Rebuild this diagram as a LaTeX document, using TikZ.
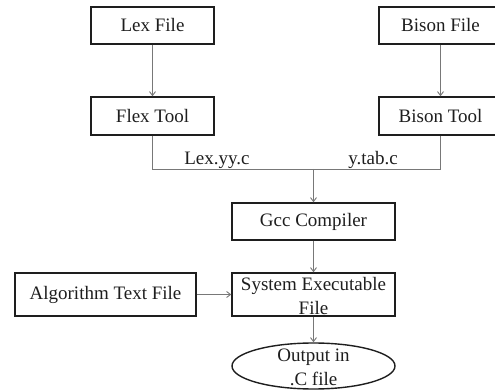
\documentclass[tikz,border=0pt]{standalone}
\usepackage{fontspec}
\setmainfont{Liberation Serif}
\usepackage{xcolor}
\usetikzlibrary{arrows.meta, positioning, shapes.geometric}
\definecolor{boxline}{RGB}{30, 30, 30}
\definecolor{wire}{RGB}{120, 120, 120}

\begin{document}
\begin{tikzpicture}[
    x=1pt, y=-1pt,
    box/.style={rectangle, draw=boxline, line width=1.4pt, inner sep=0pt, minimum width=#1, minimum height=37pt, font=\fontsize{19}{23.5}\selectfont, text=boxline},
    box/.default=123pt,
    oval/.style={ellipse, draw=boxline, line width=1.4pt, inner sep=0pt, minimum width=163pt, minimum height=46pt},
    boxtext/.style={align=center, inner sep=0pt, font=\fontsize{19}{23.5}\selectfont, text=boxline},
    lbl/.style={anchor=base, inner sep=0pt, font=\fontsize{19}{23.5}\selectfont, text=boxline},
    wireline/.style={draw=wire, line width=0.9pt},
    flowarrow/.style={wireline, -{Straight Barb[length=4pt, width=6pt]}}
  ]
  \clip (0,0) rectangle (495,390);

  % Input files
  \node[box] (lexfile) at (152.5, 25.5) {Lex File};
  \node[box] (bisonfile) at (440.5, 25.5) {Bison File};

  % Generator tools
  \node[box, minimum height=38pt] (flextool) at (152.5, 116) {Flex Tool};
  \node[box, minimum height=38pt] (bisontool) at (440.5, 116) {Bison Tool};
  \draw[flowarrow] (lexfile) -- (flextool);
  \draw[flowarrow] (bisonfile) -- (bisontool);

  % Generated sources join
  \coordinate (join) at (313.5, 169);
  \draw[wireline] (flextool.south) |- (join);
  \draw[wireline] (bisontool.south) |- (join);
  \node[lbl] (lexyy) at (217, 165) {Lex.yy.c};
  \node[lbl] (ytab) at (373, 165) {y.tab.c};

  % Compile and run
  \node[box=163pt] (gcc) at (313.5, 221.5) {Gcc Compiler};
  \node[box=163pt, minimum height=43pt] (sysexe) at (313.5, 294.5) {};
  \node[boxtext] (sysexetext) at (313.5, 296) {System Executable\\File};
  \node[box=181pt, minimum height=43pt] (algo) at (105.5, 294.5) {Algorithm Text File};
  \node[oval] (output) at (313.5, 366) {};
  \node[boxtext] (outputtext) at (313.5, 367.5) {Output in\\.C file};

  \draw[flowarrow] (join) -- (gcc);
  \draw[flowarrow] (gcc) -- (sysexe);
  \draw[flowarrow] (algo) -- (sysexe);
  \draw[flowarrow] (sysexe) -- (output);

\end{tikzpicture}
\end{document}
